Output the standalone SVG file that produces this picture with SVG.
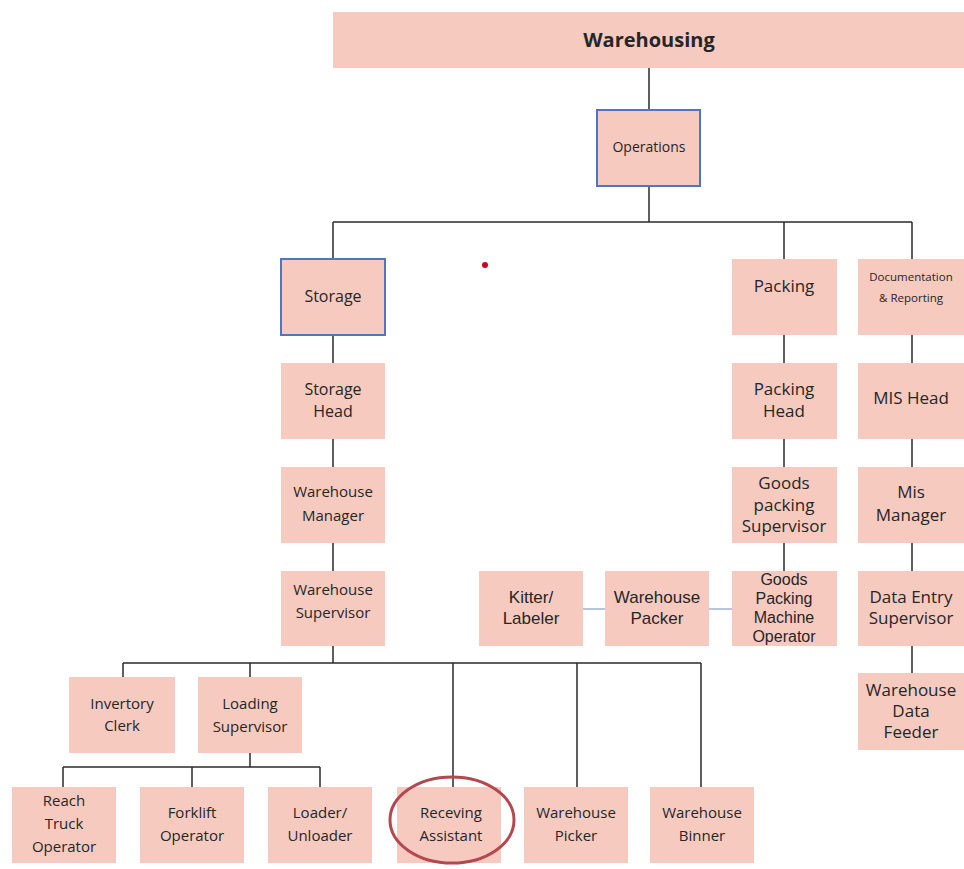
<svg xmlns="http://www.w3.org/2000/svg" width="964" height="869" viewBox="0 0 964 869">
<style>
.b{fill:#F7CAC0}
.bl{fill:#F7CAC0;stroke:#4F74C8;stroke-width:2}
.t{font-family:"Open Sans","Liberation Sans",sans-serif;font-size:15px;fill:#262626;text-anchor:middle}
.ls{font-family:"Liberation Sans",sans-serif}
.l{stroke:#2b2b2b;stroke-width:1.5;fill:none}
.lb{stroke:#9FB4D4;stroke-width:1.5;fill:none}
</style>
<rect width="964" height="869" fill="#fff"/>
<g id="connectors">
<path class="l" d="M649 68V110M649 186V222M333 222H912M333 222V259M784 222V259M912 222V259"/>
<path class="l" d="M333 335V363M333 439V467M333 543V571M333 646V663M123 663H701M123 663V677M250 663V677M453 663V787M577 663V787M701 663V787"/>
<path class="l" d="M250 753V767M63 767H320M63 767V787M192 767V787M320 767V787"/>
<path class="l" d="M784 335V363M784 439V467M784 543V571"/>
<path class="l" d="M912 335V363M912 439V467M912 543V571M912 646V673"/>
<path class="lb" d="M583 609H605M709 609H732"/>
</g>
<g id="warehousing"><rect class="b" x="333" y="12" width="631" height="56"/><text class="t" x="649" y="47" style="font-size:20px;font-weight:bold">Warehousing</text></g>
<g id="operations"><rect class="bl" x="597" y="110" width="103" height="76"/><text class="t" x="649" y="152" style="font-size:14px">Operations</text></g>
<g id="storage"><rect class="bl" x="281" y="259" width="104" height="76"/><text class="t" x="333" y="302" style="font-size:16px">Storage</text></g>
<g id="storage-head"><rect class="b" x="281" y="363" width="104" height="76"/><text class="t" x="333" y="395" style="font-size:16px">Storage</text><text class="t" x="333" y="417" style="font-size:16px">Head</text></g>
<g id="warehouse-manager"><rect class="b" x="281" y="467" width="104" height="76"/><text class="t" x="333" y="497">Warehouse</text><text class="t" x="333" y="521">Manager</text></g>
<g id="warehouse-supervisor"><rect class="b" x="281" y="571" width="104" height="75"/><text class="t" x="333" y="595">Warehouse</text><text class="t" x="333" y="618">Supervisor</text></g>
<g id="invertory-clerk"><rect class="b" x="69" y="677" width="106" height="76"/><text class="t" x="122" y="709">Invertory</text><text class="t" x="122" y="731">Clerk</text></g>
<g id="loading-supervisor"><rect class="b" x="198" y="677" width="104" height="76"/><text class="t" x="250" y="709">Loading</text><text class="t" x="250" y="732">Supervisor</text></g>
<g id="reach-truck-operator"><rect class="b" x="12" y="787" width="104" height="76"/><text class="t" x="64" y="806">Reach</text><text class="t" x="64" y="829">Truck</text><text class="t" x="64" y="852">Operator</text></g>
<g id="forklift-operator"><rect class="b" x="140" y="787" width="104" height="76"/><text class="t" x="192" y="818">Forklift</text><text class="t" x="192" y="841">Operator</text></g>
<g id="loader-unloader"><rect class="b" x="268" y="787" width="104" height="76"/><text class="t" x="320" y="818">Loader/</text><text class="t" x="320" y="841">Unloader</text></g>
<g id="receving-assistant"><rect class="b" x="397" y="787" width="104" height="76"/><text class="t" x="451" y="818">Receving</text><text class="t" x="451" y="841">Assistant</text><ellipse cx="452" cy="820" rx="62" ry="43" fill="none" stroke="#B5484F" stroke-width="3"/></g>
<g id="warehouse-picker"><rect class="b" x="524" y="787" width="104" height="76"/><text class="t" x="576" y="818">Warehouse</text><text class="t" x="576" y="841">Picker</text></g>
<g id="warehouse-binner"><rect class="b" x="650" y="787" width="104" height="76"/><text class="t" x="702" y="818">Warehouse</text><text class="t" x="702" y="841">Binner</text></g>
<g id="packing"><rect class="b" x="732" y="259" width="105" height="76"/><text class="t" x="784" y="292" style="font-size:17px">Packing</text></g>
<g id="packing-head"><rect class="b" x="732" y="363" width="105" height="76"/><text class="t" x="784" y="395" style="font-size:17px">Packing</text><text class="t" x="784" y="417" style="font-size:17px">Head</text></g>
<g id="goods-packing-supervisor"><rect class="b" x="732" y="467" width="105" height="76"/><text class="t" x="784" y="489" style="font-size:17px">Goods</text><text class="t" x="784" y="511" style="font-size:17px">packing</text><text class="t" x="784" y="532" style="font-size:17px">Supervisor</text></g>
<g id="goods-packing-machine-operator"><rect class="b" x="732" y="571" width="105" height="75"/><text class="t ls" x="784" y="585" style="font-size:16px">Goods</text><text class="t ls" x="784" y="604" style="font-size:16px">Packing</text><text class="t ls" x="784" y="623" style="font-size:16px">Machine</text><text class="t ls" x="784" y="642" style="font-size:16px">Operator</text></g>
<g id="warehouse-packer"><rect class="b" x="605" y="571" width="104" height="75"/><text class="t ls" x="657" y="603" style="font-size:17px">Warehouse</text><text class="t ls" x="657" y="624" style="font-size:17px">Packer</text></g>
<g id="kitter-labeler"><rect class="b" x="479" y="571" width="104" height="75"/><text class="t ls" x="531" y="603" style="font-size:17px">Kitter/</text><text class="t ls" x="531" y="624" style="font-size:17px">Labeler</text></g>
<g id="documentation-reporting"><rect class="b" x="858" y="259" width="106" height="76"/><text class="t" x="911" y="281" style="font-size:11.5px">Documentation</text><text class="t" x="911" y="302" style="font-size:11.5px">&amp; Reporting</text></g>
<g id="mis-head"><rect class="b" x="858" y="363" width="106" height="76"/><text class="t" x="911" y="404" style="font-size:17px">MIS Head</text></g>
<g id="mis-manager"><rect class="b" x="858" y="467" width="106" height="76"/><text class="t" x="911" y="498" style="font-size:17px">Mis</text><text class="t" x="911" y="521" style="font-size:17px">Manager</text></g>
<g id="data-entry-supervisor"><rect class="b" x="858" y="571" width="106" height="75"/><text class="t" x="911" y="603" style="font-size:17px">Data Entry</text><text class="t" x="911" y="624" style="font-size:17px">Supervisor</text></g>
<g id="warehouse-data-feeder"><rect class="b" x="858" y="673" width="106" height="77"/><text class="t" x="911" y="696" style="font-size:17px">Warehouse</text><text class="t" x="911" y="717" style="font-size:17px">Data</text><text class="t" x="911" y="738" style="font-size:17px">Feeder</text></g>
<circle cx="485" cy="265" r="3" fill="#D0021B"/>
</svg>
